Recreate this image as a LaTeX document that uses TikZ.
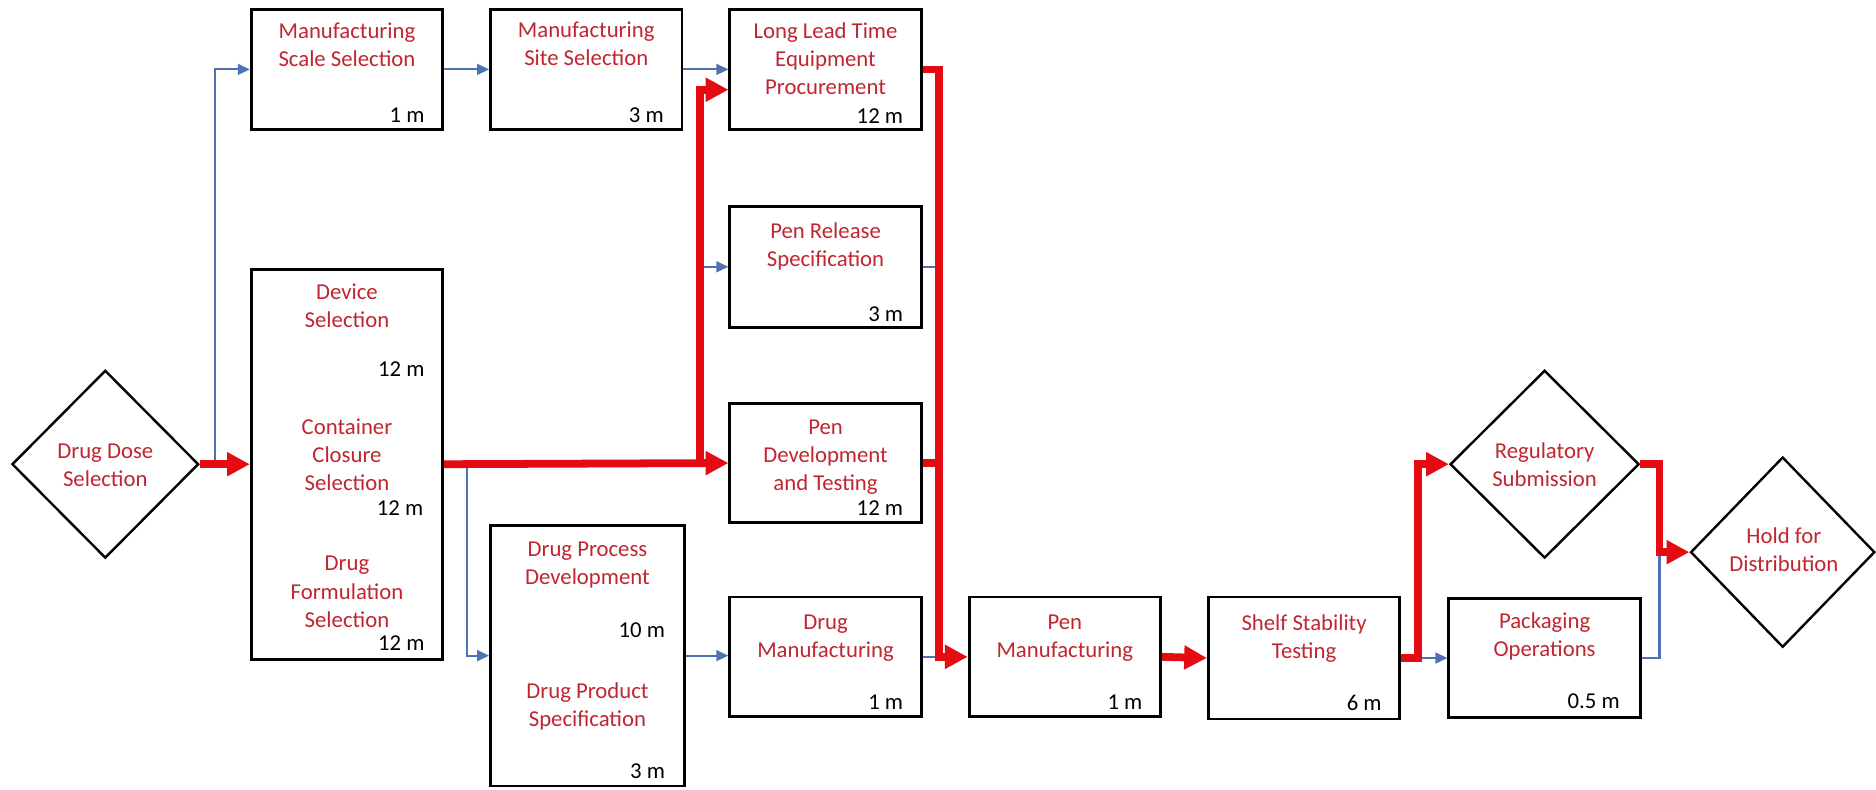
\documentclass[tikz,border=0pt]{standalone}
\usepackage{fontspec}
\setmainfont{Carlito}
\usetikzlibrary{arrows.meta,shapes.geometric,calc}
\definecolor{ttlc}{RGB}{192,38,48}
\definecolor{redln}{RGB}{228,12,18}
\definecolor{blueln}{RGB}{79,114,181}
\tikzset{
  box/.style={draw=black, line width=2.4pt, rectangle, minimum width=160pt, minimum height=100pt, inner sep=0pt, fill=white},
  dia/.style={draw=black, line width=2pt, diamond, inner sep=0pt, fill=white},
  ttl/.style={text=ttlc, font=\fontsize{19}{23.5}\selectfont, align=center, inner sep=0pt},
  dur/.style={text=black, font=\fontsize{19}{23.5}\selectfont, inner sep=0pt, anchor=base east},
  cp/.style={draw=redln, line width=6.5pt, -{Triangle[length=19pt,width=19pt]}},
  cpn/.style={draw=redln, line width=6.5pt},
  bl/.style={draw=blueln, line width=1.8pt, -{Triangle[length=10pt,width=9pt]}},
  bln/.style={draw=blueln, line width=1.8pt},
}
\begin{document}
\begin{tikzpicture}[x=1pt,y=-1pt]
\useasboundingbox[fill=white] (0,0) rectangle (1568,660);

% boxes
\node[box] (mss) at (290,58) {};
\node[box] (msis) at (490,58) {};
\node[box] (llt) at (690,58) {};
\node[box, minimum height=101pt] (prs) at (690,223) {};
\node[box] (pdt) at (690,387) {};
\node[box, minimum height=326pt] (dcd) at (290,388) {};
\node[box, minimum width=162pt, minimum height=218pt] (dpd) at (491,548) {};
\node[box] (dm) at (690,549) {};
\node[box] (pm) at (890,549) {};
\node[box, minimum height=102pt] (sst) at (1090,550) {};
\node[box] (po) at (1291,550) {};
\node[dia, minimum width=156pt, minimum height=157pt] (dds) at (88,388) {};
\node[dia, minimum width=158pt, minimum height=157pt] (rs) at (1291,388) {};
\node[dia, minimum width=154pt, minimum height=159pt] (hfd) at (1490,461.5) {};

% titles
\node[ttl] (tmss) at (290,39.5) {\strut Manufacturing\\\strut Scale Selection};
\node[ttl] (tmsis) at (490,38) {\strut Manufacturing\\\strut Site Selection};
\node[ttl] (tllt) at (690,51) {\strut Long Lead Time\\\strut Equipment\\\strut Procurement};
\node[ttl] (tprs) at (690,206) {\strut Pen Release\\\strut Specification};
\node[ttl] (tpdt) at (690,382) {\strut Pen\\\strut Development\\\strut and Testing};
\node[ttl] (tdcd1) at (290,257) {\strut Device\\\strut Selection};
\node[ttl] (tdcd2) at (290,382) {\strut Container\\\strut Closure\\\strut Selection};
\node[ttl] (tdcd3) at (290,496) {\strut Drug\\\strut Formulation\\\strut Selection};
\node[ttl] (tdpd1) at (491,472.5) {\strut Drug Process\\\strut Development};
\node[ttl] (tdpd2) at (491,590.5) {\strut Drug Product\\\strut Specification};
\node[ttl] (tdm) at (690,533) {\strut Drug\\\strut Manufacturing};
\node[ttl] (tpm) at (890,533) {\strut Pen\\\strut Manufacturing};
\node[ttl] (tsst) at (1090,534) {\strut Shelf Stability\\\strut Testing};
\node[ttl] (tpo) at (1291,532) {\strut Packaging\\\strut Operations};
\node[ttl] (tdds) at (88,390) {\strut Drug Dose\\\strut Selection};
\node[ttl] (trs) at (1291,390) {\strut Regulatory\\\strut Submission};
\node[ttl] (thfd) at (1491,461.5) {\strut Hold for\\\strut Distribution};

% durations
\node[dur] (dmss) at (355,102) {1 m};
\node[dur] (dmsis) at (555,102) {3 m};
\node[dur] (dllt) at (755,103) {12 m};
\node[dur] (dprs) at (755,269) {3 m};
\node[dur] (dpdt) at (755,431) {12 m};
\node[dur] (ddcd1) at (355,315) {12 m};
\node[dur] (ddcd2) at (354,430.5) {12 m};
\node[dur] (ddcd3) at (355,544) {12 m};
\node[dur] (ddpd1) at (556,532.5) {10 m};
\node[dur] (ddpd2) at (556,651) {3 m};
\node[dur] (ddm) at (755,593) {1 m};
\node[dur] (dpm) at (955,593) {1 m};
\node[dur] (dsst) at (1155,594) {6 m};
\node[dur] (dpo) at (1354,592) {0.5 m};

% junction coordinates
\coordinate (j0) at (180,388);
\coordinate (j1) at (585,388);
\coordinate (j3) at (390,388);
\coordinate (busA) at (785,0);
\coordinate (busB) at (1185,0);
\coordinate (busC) at (1387,0);

% blue connectors
\draw[bl] (j0) |- (mss.west);
\draw[bl] (mss.east) -- (msis.west);
\draw[bl] (msis.east) -- (llt.west);
\draw[bl] (j1 |- prs.west) -- (prs.west);
\draw[bln] (prs.east) -- (prs.east -| busA);
\draw[bl] (j3) |- (dpd.west);
\draw[bl] (dpd.east) -- (dpd.east -| dm.west);
\draw[bln] (dm.east) -- (dm.east -| busA);
\draw[bl] (sst.east) -- (po.west);
\draw[bln] (po.east) -- (po.east -| busC) -- (busC |- hfd.west);

% red (critical path) connectors
\draw[cp] (dds.east) -- (dcd.west);
\draw[cp] (dcd.east) -- (pdt.west);
\draw[cp] (j1) |- ($(llt.west)+(0,17)$);
\draw[cp] (llt.east) -- (llt.east -| busA) -- (busA |- pm.west) -- (pm.west);
\draw[cpn] (pdt.east) -- (pdt.east -| busA);
\draw[cp] (pm.east) -- (sst.west);
\draw[cp] (sst.east) -- (sst.east -| busB) -- (busB |- rs.west) -- (rs.west);
\draw[cp] (rs.east) -- (rs.east -| busC) -- (busC |- hfd.west) -- (hfd.west);
\end{tikzpicture}
\end{document}
